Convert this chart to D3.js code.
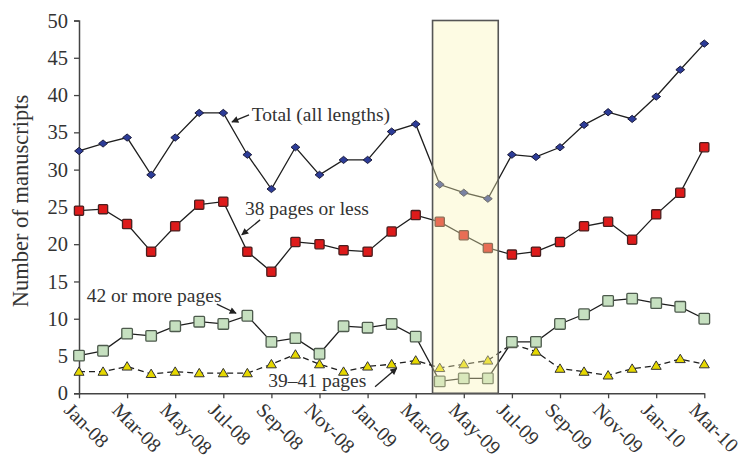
<!DOCTYPE html>
<html>
<head>
<meta charset="utf-8">
<script src="https://cdn.jsdelivr.net/npm/d3@7"></script>
<style>
  html, body { margin: 0; padding: 0; background: #fff; }
  svg { display: block; }
  svg text { font-family: "Liberation Serif", "Times New Roman", Times, serif; fill: #333; }
</style>
</head>
<body>
<svg id="chart" width="750" height="457"></svg>
<script>
const months = ["Jan-08","Feb-08","Mar-08","Apr-08","May-08","Jun-08","Jul-08","Aug-08","Sep-08","Oct-08","Nov-08","Dec-08",
  "Jan-09","Feb-09","Mar-09","Apr-09","May-09","Jun-09","Jul-09","Aug-09","Sep-09","Oct-09","Nov-09","Dec-09",
  "Jan-10","Feb-10","Mar-10"];
const tickLabels = ["Jan-08","Mar-08","May-08","Jul-08","Sep-08","Nov-08","Jan-09","Mar-09","May-09","Jul-09","Sep-09","Nov-09","Jan-10","Mar-10"];
const yTicks = [0,5,10,15,20,25,30,35,40,45,50];
const totalAll = [32.5,33.5,34.3,29.3,34.3,37.6,37.6,32.0,27.4,33.0,29.3,31.3,31.3,35.1,36.1,28.0,26.9,26.1,32.0,31.7,33.0,36.0,37.7,36.8,39.8,43.4,46.9];
const pages38OrLess = [24.5,24.7,22.7,19.0,22.4,25.3,25.7,19.0,16.3,20.3,20.0,19.2,19.0,21.7,23.9,23.0,21.2,19.5,18.6,19.0,20.3,22.4,23.0,20.6,24.0,26.9,33.0];
const pages42OrMore = [5.05,5.7,8.0,7.7,9.0,9.6,9.3,10.4,6.9,7.4,5.3,9.0,8.8,9.3,7.6,1.6,2.0,2.0,6.9,6.9,9.3,10.6,12.4,12.7,12.1,11.6,10.0];
const pages39to41 = [2.9,2.9,3.6,2.6,2.9,2.7,2.7,2.7,3.9,5.2,3.9,2.9,3.6,3.9,4.4,3.4,3.9,4.4,6.6,5.6,3.3,2.9,2.4,3.3,3.7,4.6,3.9];
const highlightMonths = ["Apr-09","Jun-09"];
const yTitle = "Number of manuscripts";

const FONT = '"Liberation Serif", "Times New Roman", Times, serif';
const svg = d3.select("#chart");
const x = d3.scalePoint().domain(months).range([79, 704.3]);
const y = d3.scaleLinear().domain([0, 50]).range([393.3, 20.5]);
const step = x.step();
const xi = i => x(months[0]) + i * step;

svg.append("defs").append("marker")
  .attr("id", "arr").attr("viewBox", "0 0 10 10").attr("refX", 9).attr("refY", 5)
  .attr("markerWidth", 8).attr("markerHeight", 7).attr("markerUnits", "userSpaceOnUse")
  .attr("orient", "auto")
  .append("path").attr("d", "M0,0 L10,5 L0,10 z").attr("fill", "#222");

// Axes
const yAxis = d3.axisLeft(y).tickValues(yTicks).tickSize(5).tickPadding(6).tickFormat(d3.format("d"));
const gy = svg.append("g").attr("transform", `translate(${x(months[0])},0)`).call(yAxis)
  .attr("font-family", FONT).attr("font-size", 20.5);
gy.select(".domain").attr("stroke", "#444").attr("stroke-width", 1.5);
gy.selectAll(".tick line").attr("stroke", "#444").attr("stroke-width", 1.3);
gy.selectAll(".tick text").attr("fill", "#333");

const xAxis = d3.axisBottom(x).tickValues(tickLabels).tickSize(5).tickSizeOuter(0);
const gx = svg.append("g").attr("transform", `translate(0,${y(0)})`).call(xAxis)
  .attr("font-family", FONT).attr("font-size", 20);
gx.select(".domain").attr("stroke", "#444").attr("stroke-width", 1.5);
gx.selectAll(".tick line").attr("stroke", "#444").attr("stroke-width", 1.3);
gx.selectAll(".tick text")
  .attr("fill", "#333")
  .attr("text-anchor", "start").attr("dy", null)
  .attr("transform", "rotate(45)").attr("x", 1).attr("y", 24.5);

// Y title
svg.append("text")
  .attr("transform", `translate(28,201)rotate(-90)`)
  .attr("text-anchor", "middle").attr("font-family", FONT).attr("font-size", 22.5).text(yTitle);

// Lines
const line = d3.line().x((d, i) => x(months[i])).y(d => y(d));
function drawLine(data, dash) {
  svg.append("path").datum(data).attr("d", line).attr("fill", "none")
    .attr("stroke", "#1e1e1e").attr("stroke-width", 1.3)
    .attr("stroke-dasharray", dash || null);
}
drawLine(totalAll);
drawLine(pages38OrLess);
drawLine(pages42OrMore);
drawLine(pages39to41, "6,4");

// Markers
svg.append("g").selectAll("path").data(pages39to41).join("path")
  .attr("d", "M0,-4.8 L5,3.6 L-5,3.6 Z")
  .attr("transform", (d, i) => `translate(${x(months[i])},${y(d)})`)
  .attr("fill", "#e6d800").attr("stroke", "#333").attr("stroke-width", 1);
svg.append("g").selectAll("rect").data(pages42OrMore).join("rect")
  .attr("x", (d, i) => x(months[i]) - 5.3).attr("y", d => y(d) - 5.3)
  .attr("width", 10.6).attr("height", 10.6).attr("rx", 1)
  .attr("fill", "#c6e0c0").attr("stroke", "#4d5a4d").attr("stroke-width", 1.3);
svg.append("g").selectAll("rect").data(pages38OrLess).join("rect")
  .attr("x", (d, i) => x(months[i]) - 4.6).attr("y", d => y(d) - 4.6)
  .attr("width", 9.2).attr("height", 9.2).attr("rx", 1)
  .attr("fill", "#de1a1a").attr("stroke", "#4a2020").attr("stroke-width", 1.3);
svg.append("g").selectAll("path").data(totalAll).join("path")
  .attr("d", "M0,-3.6 L4.4,0 L0,3.6 L-4.4,0 Z")
  .attr("transform", (d, i) => `translate(${x(months[i])},${y(d)})`)
  .attr("fill", "#2c3c98").attr("stroke", "#1a1a3a").attr("stroke-width", 1);

// Highlight box (semi-transparent overlay)
const bx0 = x(highlightMonths[0]) - 7.2;
const bx1 = x(highlightMonths[1]) + 10.4;
svg.append("rect")
  .attr("x", bx0).attr("y", y(50)).attr("width", bx1 - bx0).attr("height", y(0) - y(50))
  .attr("fill", "rgb(249,244,181)").attr("fill-opacity", 0.38)
  .attr("stroke", "#555").attr("stroke-width", 1.6);

// Annotations
const ann = [
  { text: "Total (all lengths)", tx: 7.18, ty: 36.55, ax0: 7.07, ay0: 37.35, ax1: 6.36, ay1: 36.4 },
  { text: "38 pages or less", tx: 6.9, ty: 23.93, ax0: 7.53, ay0: 23.26, ax1: 6.77, ay1: 21.25 },
  { text: "42 or more pages", tx: 0.32, ty: 12.3, ax0: 5.73, ay0: 11.95, ax1: 6.53, ay1: 10.74 },
  { text: "39\u201341 pages", tx: 7.87, ty: 0.89, ax0: 12.31, ay0: 0.89, ax1: 13.21, ay1: 3.36 }
];
ann.forEach(a => {
  svg.append("text").attr("x", xi(a.tx)).attr("y", y(a.ty))
    .attr("font-family", FONT).attr("font-size", 19.5).text(a.text);
  svg.append("line").attr("x1", xi(a.ax0)).attr("y1", y(a.ay0)).attr("x2", xi(a.ax1)).attr("y2", y(a.ay1))
    .attr("stroke", "#222").attr("stroke-width", 1.3).attr("marker-end", "url(#arr)");
});
</script>
</body>
</html>
